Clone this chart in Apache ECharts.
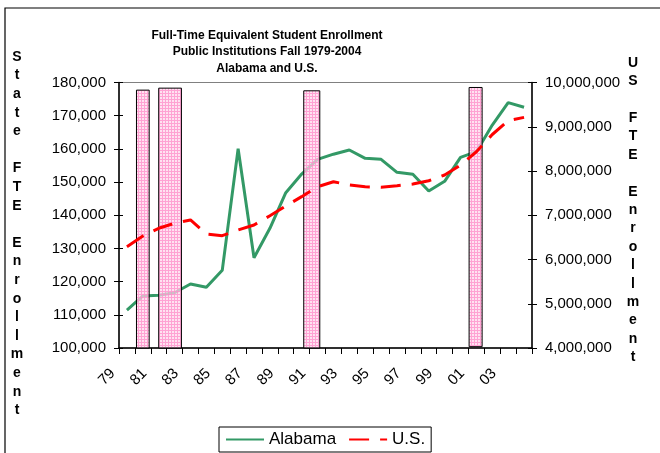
<!DOCTYPE html>
<html>
<head>
<meta charset="utf-8">
<script src="https://cdn.jsdelivr.net/npm/echarts@6/dist/echarts.min.js"></script>
<style>
html,body{margin:0;padding:0;background:#fff;}
#chart{width:660px;height:453px;}
</style>
</head>
<body>
<div id="chart"></div>
<script>
// ---- data ----
const years = ['79','80','81','82','83','84','85','86','87','88','89','90','91','92','93','94','95','96','97','98','99','00','01','02','03','04'];
const alabama = [111450,115670,115880,116660,119280,118280,123400,160060,127200,136060,146800,152400,156850,158400,159660,157160,156850,152940,152330,147300,150230,157460,159150,167190,173920,172530];
const us = [6289000,6531000,6705000,6818000,6893000,6577000,6538000,6667000,6780000,6990000,7209000,7420000,7645000,7758000,7684000,7645000,7631000,7668000,7706000,7780000,7909000,8135000,8435000,8825000,9136000,9212000];
// recession bars: start year, end year (fractional), top and bottom on the state axis
const recessionStart = [1980.1, 1981.5, 1990.63, 2001.04];
const recessionEnd   = [1980.9, 1982.93, 1991.64, 2001.86];
const recessionTop   = [177700, 178300, 177500, 178500];
const recessionBase  = [100000, 100000, 100000, 100400];
const leftTicks = {min:100000, max:180000, interval:10000};
const rightTicks = {min:4000000, max:10000000, interval:1000000};

// ---- pattern for recession bars ----
const pc = document.createElement('canvas');
pc.width = 3; pc.height = 3;
const pctx = pc.getContext('2d');
pctx.fillStyle = 'rgba(255,215,235,0.72)';
pctx.fillRect(0,0,3,3);
pctx.fillStyle = 'rgba(255,140,200,0.75)';
pctx.fillRect(0,0,3,1);
pctx.fillRect(0,1,1,2);

const FONT = 'Liberation Sans, Arial, sans-serif';
const chart = echarts.init(document.getElementById('chart'), null, {renderer:'canvas'});

const fmt = v => v.toLocaleString('en-US');

const option = {
  animation: false,
  backgroundColor: '#fff',
  textStyle: {fontFamily: FONT, color:'#000'},
  title: {
    text: 'Full-Time Equivalent Student Enrollment\nPublic Institutions Fall 1979-2004\nAlabama and U.S.',
    left: 262, top: 22, textAlign: 'center',
    textStyle: {fontFamily: FONT, fontSize: 12, fontWeight: 'bold', lineHeight: 16.5, color:'#000'}
  },
  legend: {
    data: ['Alabama','U.S.'],
    left: 219, top: 427,
    padding: [4, 6, 4, 6],
    itemGap: 12,
    itemWidth: 38, itemHeight: 14,
    borderColor: '#000', borderWidth: 1,
    backgroundColor: '#fff',
    itemStyle: {opacity: 0, borderWidth: 0},
    textStyle: {fontFamily: FONT, fontSize: 17, color:'#000'}
  },
  grid: {left: 119, right: 128, top: 82.5, bottom: 105, show: true, borderColor: '#808080', borderWidth: 1, containLabel: false},
  xAxis: [
    {
      type: 'category', data: years, boundaryGap: true,
      axisLine: {lineStyle: {color:'#000', width: 1.5}},
      axisTick: {show: true, interval: 0, length: 6, lineStyle:{color:'#000'}},
      axisLabel: {interval: 1, rotate: 45, margin: 9, fontSize: 15, color:'#000', fontFamily: FONT, padding: [0, 20, 14, 0]},
      splitLine: {show:false}
    },
    {type: 'value', min: 1979, max: 2005, show: false}
  ],
  yAxis: [
    {
      type: 'value', position: 'left', min: leftTicks.min, max: leftTicks.max, interval: leftTicks.interval,
      axisLine: {show: true, lineStyle: {color:'#000', width: 1.5}},
      axisTick: {show: true, length: 5, lineStyle:{color:'#000'}},
      axisLabel: {margin: 13, fontSize: 15, color:'#000', fontFamily: FONT, formatter: fmt},
      splitLine: {show:false}
    },
    {
      type: 'value', position: 'right', min: rightTicks.min, max: rightTicks.max, interval: rightTicks.interval,
      axisLine: {show: true, lineStyle: {color:'#000', width: 1.5}},
      axisTick: {show: true, length: 5, lineStyle:{color:'#000'}},
      axisLabel: {margin: 13, fontSize: 15, color:'#000', fontFamily: FONT, formatter: fmt},
      splitLine: {show:false}
    },
    {
      type: 'value', position: 'left', min: leftTicks.min, max: leftTicks.max, interval: leftTicks.interval,
      axisLine: {show:false}, axisLabel: {show:false}, splitLine:{show:false},
      axisTick: {show: true, inside: true, length: 4, lineStyle:{color:'#000'}}
    },
    {
      type: 'value', position: 'right', min: rightTicks.min, max: rightTicks.max, interval: rightTicks.interval,
      axisLine: {show:false}, axisLabel: {show:false}, splitLine:{show:false},
      axisTick: {show: true, inside: true, length: 4, lineStyle:{color:'#000'}}
    }
  ],
  series: [
    {
      name: 'Alabama', type: 'line', data: alabama, xAxisIndex: 0, yAxisIndex: 0,
      symbol: 'none', z: 2, color: '#339966',
      lineStyle: {color: '#339966', width: 3}
    },
    {
      name: 'Recession', type: 'custom', xAxisIndex: 1, yAxisIndex: 0, z: 3,
      data: recessionStart.map((s,i) => [s, recessionEnd[i], recessionTop[i], recessionBase[i]]),
      encode: {x: [0,1], y: [2,3]},
      renderItem: function (params, api) {
        const p0 = api.coord([api.value(0), api.value(2)]);
        const p1 = api.coord([api.value(1), api.value(3)]);
        return {
          type: 'rect',
          shape: {x: p0[0], y: p0[1], width: p1[0]-p0[0], height: p1[1]-p0[1]},
          style: {fill: {image: pc, repeat: 'repeat'}, stroke: '#000', lineWidth: 1}
        };
      }
    },
    {
      name: 'U.S.', type: 'line', data: us, xAxisIndex: 0, yAxisIndex: 1,
      symbol: 'none', z: 4, color: '#ff0000',
      lineStyle: {color: '#ff0000', width: 3, type: [20, 11]}
    }
  ],
  graphic: [
    {type:'rect', shape:{x:5, y:8, width:720, height:520}, style:{fill:'none', stroke:'#000', lineWidth:1.2}, z: 100},
    {type:'text', x: 17, y: 47.7, style:{
      text: 'S\nt\na\nt\ne\n\nF\nT\nE\n\nE\nn\nr\no\nl\nl\nm\ne\nn\nt',
      font: 'bold 14px ' + FONT, lineHeight: 18.6, align: 'center', verticalAlign: 'top', fill: '#000'}},
    {type:'text', x: 633, y: 53.8, style:{
      text: 'U\nS\n\nF\nT\nE\n\nE\nn\nr\no\nl\nl\nm\ne\nn\nt',
      font: 'bold 14px ' + FONT, lineHeight: 18.4, align: 'center', verticalAlign: 'top', fill: '#000'}}
  ]
};
chart.setOption(option);
</script>
</body>
</html>
